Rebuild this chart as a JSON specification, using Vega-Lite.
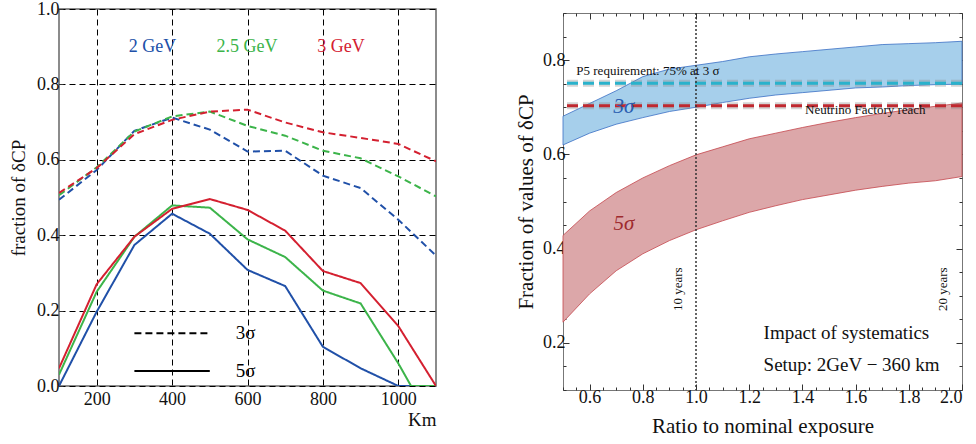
{
  "$schema": "https://vega.github.io/schema/vega-lite/v6.json",
  "padding": {"left": 8, "top": -1, "right": 0, "bottom": 0},
  "background": "white",
  "spacing": 78,
  "config": {
    "font": "Liberation Serif",
    "axis": {"labelFont": "Liberation Serif", "titleFont": "Liberation Serif", "labelColor": "#111", "titleColor": "#111", "titleFontWeight": "normal", "domain": false, "tickColor": "#333", "labelOverlap": false, "grid": false},
    "text": {"font": "Liberation Serif"}
  },
  "datasets": {
    "left": [
      {"km": 100, "frac": 0.494, "energy": "2 GeV", "sigma": "3σ"},
      {"km": 200, "frac": 0.573, "energy": "2 GeV", "sigma": "3σ"},
      {"km": 300, "frac": 0.677, "energy": "2 GeV", "sigma": "3σ"},
      {"km": 400, "frac": 0.712, "energy": "2 GeV", "sigma": "3σ"},
      {"km": 500, "frac": 0.680, "energy": "2 GeV", "sigma": "3σ"},
      {"km": 600, "frac": 0.622, "energy": "2 GeV", "sigma": "3σ"},
      {"km": 700, "frac": 0.624, "energy": "2 GeV", "sigma": "3σ"},
      {"km": 800, "frac": 0.558, "energy": "2 GeV", "sigma": "3σ"},
      {"km": 900, "frac": 0.525, "energy": "2 GeV", "sigma": "3σ"},
      {"km": 1000, "frac": 0.441, "energy": "2 GeV", "sigma": "3σ"},
      {"km": 1100, "frac": 0.346, "energy": "2 GeV", "sigma": "3σ"},
      {"km": 100, "frac": 0.506, "energy": "2.5 GeV", "sigma": "3σ"},
      {"km": 200, "frac": 0.580, "energy": "2.5 GeV", "sigma": "3σ"},
      {"km": 300, "frac": 0.675, "energy": "2.5 GeV", "sigma": "3σ"},
      {"km": 400, "frac": 0.715, "energy": "2.5 GeV", "sigma": "3σ"},
      {"km": 500, "frac": 0.728, "energy": "2.5 GeV", "sigma": "3σ"},
      {"km": 600, "frac": 0.690, "energy": "2.5 GeV", "sigma": "3σ"},
      {"km": 700, "frac": 0.664, "energy": "2.5 GeV", "sigma": "3σ"},
      {"km": 800, "frac": 0.624, "energy": "2.5 GeV", "sigma": "3σ"},
      {"km": 900, "frac": 0.604, "energy": "2.5 GeV", "sigma": "3σ"},
      {"km": 1000, "frac": 0.556, "energy": "2.5 GeV", "sigma": "3σ"},
      {"km": 1100, "frac": 0.503, "energy": "2.5 GeV", "sigma": "3σ"},
      {"km": 100, "frac": 0.512, "energy": "3 GeV", "sigma": "3σ"},
      {"km": 200, "frac": 0.578, "energy": "3 GeV", "sigma": "3σ"},
      {"km": 300, "frac": 0.668, "energy": "3 GeV", "sigma": "3σ"},
      {"km": 400, "frac": 0.706, "energy": "3 GeV", "sigma": "3σ"},
      {"km": 500, "frac": 0.728, "energy": "3 GeV", "sigma": "3σ"},
      {"km": 600, "frac": 0.733, "energy": "3 GeV", "sigma": "3σ"},
      {"km": 700, "frac": 0.699, "energy": "3 GeV", "sigma": "3σ"},
      {"km": 800, "frac": 0.673, "energy": "3 GeV", "sigma": "3σ"},
      {"km": 900, "frac": 0.658, "energy": "3 GeV", "sigma": "3σ"},
      {"km": 1000, "frac": 0.642, "energy": "3 GeV", "sigma": "3σ"},
      {"km": 1100, "frac": 0.596, "energy": "3 GeV", "sigma": "3σ"},
      {"km": 100, "frac": 0.0, "energy": "2 GeV", "sigma": "5σ"},
      {"km": 200, "frac": 0.197, "energy": "2 GeV", "sigma": "5σ"},
      {"km": 300, "frac": 0.374, "energy": "2 GeV", "sigma": "5σ"},
      {"km": 400, "frac": 0.457, "energy": "2 GeV", "sigma": "5σ"},
      {"km": 500, "frac": 0.404, "energy": "2 GeV", "sigma": "5σ"},
      {"km": 600, "frac": 0.308, "energy": "2 GeV", "sigma": "5σ"},
      {"km": 700, "frac": 0.265, "energy": "2 GeV", "sigma": "5σ"},
      {"km": 800, "frac": 0.104, "energy": "2 GeV", "sigma": "5σ"},
      {"km": 900, "frac": 0.047, "energy": "2 GeV", "sigma": "5σ"},
      {"km": 1000, "frac": 0.0, "energy": "2 GeV", "sigma": "5σ"},
      {"km": 1100, "frac": 0.0, "energy": "2 GeV", "sigma": "5σ"},
      {"km": 100, "frac": 0.030, "energy": "2.5 GeV", "sigma": "5σ"},
      {"km": 200, "frac": 0.250, "energy": "2.5 GeV", "sigma": "5σ"},
      {"km": 300, "frac": 0.396, "energy": "2.5 GeV", "sigma": "5σ"},
      {"km": 400, "frac": 0.479, "energy": "2.5 GeV", "sigma": "5σ"},
      {"km": 500, "frac": 0.473, "energy": "2.5 GeV", "sigma": "5σ"},
      {"km": 600, "frac": 0.389, "energy": "2.5 GeV", "sigma": "5σ"},
      {"km": 700, "frac": 0.342, "energy": "2.5 GeV", "sigma": "5σ"},
      {"km": 800, "frac": 0.253, "energy": "2.5 GeV", "sigma": "5σ"},
      {"km": 900, "frac": 0.219, "energy": "2.5 GeV", "sigma": "5σ"},
      {"km": 1000, "frac": 0.060, "energy": "2.5 GeV", "sigma": "5σ"},
      {"km": 1034, "frac": 0.0, "energy": "2.5 GeV", "sigma": "5σ"},
      {"km": 1100, "frac": 0.0, "energy": "2.5 GeV", "sigma": "5σ"},
      {"km": 100, "frac": 0.047, "energy": "3 GeV", "sigma": "5σ"},
      {"km": 200, "frac": 0.270, "energy": "3 GeV", "sigma": "5σ"},
      {"km": 300, "frac": 0.396, "energy": "3 GeV", "sigma": "5σ"},
      {"km": 400, "frac": 0.470, "energy": "3 GeV", "sigma": "5σ"},
      {"km": 500, "frac": 0.496, "energy": "3 GeV", "sigma": "5σ"},
      {"km": 600, "frac": 0.467, "energy": "3 GeV", "sigma": "5σ"},
      {"km": 700, "frac": 0.412, "energy": "3 GeV", "sigma": "5σ"},
      {"km": 800, "frac": 0.305, "energy": "3 GeV", "sigma": "5σ"},
      {"km": 900, "frac": 0.273, "energy": "3 GeV", "sigma": "5σ"},
      {"km": 1000, "frac": 0.159, "energy": "3 GeV", "sigma": "5σ"},
      {"km": 1100, "frac": 0.0, "energy": "3 GeV", "sigma": "5σ"}
    ],
    "legL": [
      {"x1": 300, "x2": 500, "y": 0.14, "sigma": "3σ"},
      {"x1": 300, "x2": 500, "y": 0.04, "sigma": "5σ"}
    ],
    "energyLabels": [
      {"km": 348, "y": 0.9, "energy": "2 GeV"},
      {"km": 599, "y": 0.9, "energy": "2.5 GeV"},
      {"km": 848, "y": 0.9, "energy": "3 GeV"}
    ],
    "bands": [
      {"r": 0.5, "lo3": 0.620, "hi3": 0.681, "lo5": 0.244, "hi5": 0.428},
      {"r": 0.6, "lo3": 0.645, "hi3": 0.708, "lo5": 0.304, "hi5": 0.480},
      {"r": 0.7, "lo3": 0.664, "hi3": 0.735, "lo5": 0.353, "hi5": 0.519},
      {"r": 0.8, "lo3": 0.678, "hi3": 0.765, "lo5": 0.389, "hi5": 0.550},
      {"r": 0.9, "lo3": 0.691, "hi3": 0.781, "lo5": 0.417, "hi5": 0.576},
      {"r": 1.0, "lo3": 0.700, "hi3": 0.789, "lo5": 0.440, "hi5": 0.599},
      {"r": 1.1, "lo3": 0.710, "hi3": 0.797, "lo5": 0.459, "hi5": 0.616},
      {"r": 1.2, "lo3": 0.719, "hi3": 0.807, "lo5": 0.477, "hi5": 0.633},
      {"r": 1.3, "lo3": 0.726, "hi3": 0.813, "lo5": 0.491, "hi5": 0.645},
      {"r": 1.4, "lo3": 0.731, "hi3": 0.818, "lo5": 0.504, "hi5": 0.657},
      {"r": 1.5, "lo3": 0.736, "hi3": 0.823, "lo5": 0.514, "hi5": 0.668},
      {"r": 1.6, "lo3": 0.741, "hi3": 0.828, "lo5": 0.524, "hi5": 0.678},
      {"r": 1.7, "lo3": 0.743, "hi3": 0.833, "lo5": 0.532, "hi5": 0.687},
      {"r": 1.8, "lo3": 0.746, "hi3": 0.835, "lo5": 0.539, "hi5": 0.695},
      {"r": 1.9, "lo3": 0.748, "hi3": 0.837, "lo5": 0.544, "hi5": 0.702},
      {"r": 2.0, "lo3": 0.749, "hi3": 0.840, "lo5": 0.553, "hi5": 0.709}
    ]
  },
  "hconcat": [
    {
      "width": 377,
      "height": 377,
      "view": {"stroke": "#666", "strokeWidth": 1.5},
      "layer": [
        {
          "data": {"name": "left"},
          "mark": {"type": "line", "strokeWidth": 2, "clip": true},
          "encoding": {
            "x": {"field": "km", "type": "quantitative",
              "scale": {"domain": [100, 1100], "nice": false, "zero": false},
              "axis": {"values": [200, 400, 600, 800, 1000], "format": "d",
                "labelFontSize": 18, "tickSize": 0, "labelPadding": 4, "labelFlush": false,
                "grid": true, "gridColor": "#000", "gridDash": [6, 4], "gridWidth": 1,
                "title": "Km", "titleFontSize": 19, "titleAnchor": "end", "titlePadding": 2}},
            "y": {"field": "frac", "type": "quantitative",
              "scale": {"domain": [0, 1], "nice": false},
              "axis": {"values": [0,0.05,0.1,0.15,0.2,0.25,0.3,0.35,0.4,0.45,0.5,0.55,0.6,0.65,0.7,0.75,0.8,0.85,0.9,0.95,1.0],
                "labelExpr": "abs(datum.value*5 - round(datum.value*5)) < 0.001 ? format(datum.value, '.1f') : ''",
                "labelFontSize": 18, "tickSize": -4, "labelPadding": 4,
                "grid": true, "gridColor": "#000", "gridDash": [6, 4], "gridWidth": 1,
                "gridOpacity": {"condition": {"test": "abs(datum.value*5 - round(datum.value*5)) < 0.001", "value": 1}, "value": 0},
                "title": "fraction of δCP", "titleFontSize": 19, "titlePadding": 8}},
            "color": {"field": "energy", "type": "nominal",
              "scale": {"domain": ["2 GeV", "2.5 GeV", "3 GeV"], "range": ["#2050a8", "#3cb44a", "#d42030"]}, "legend": null},
            "strokeDash": {"field": "sigma", "type": "nominal",
              "scale": {"domain": ["3σ", "5σ"], "range": [[7, 4], [1, 0]]}, "legend": null}
          }
        },
        {
          "data": {"name": "legL"},
          "mark": {"type": "rule", "strokeWidth": 2, "color": "#000"},
          "encoding": {
            "x": {"field": "x1", "type": "quantitative"},
            "x2": {"field": "x2"},
            "y": {"field": "y", "type": "quantitative"},
            "strokeDash": {"field": "sigma", "type": "nominal", "legend": null}
          }
        },
        {
          "data": {"name": "legL"},
          "mark": {"type": "text", "align": "left", "baseline": "middle", "fontSize": 19, "color": "#000", "dx": 26},
          "encoding": {
            "x": {"field": "x2", "type": "quantitative"},
            "y": {"field": "y", "type": "quantitative"},
            "text": {"field": "sigma"}
          }
        },
        {
          "data": {"name": "energyLabels"},
          "mark": {"type": "text", "align": "center", "baseline": "middle", "fontSize": 18},
          "encoding": {
            "x": {"field": "km", "type": "quantitative"},
            "y": {"field": "y", "type": "quantitative"},
            "text": {"field": "energy"},
            "color": {"field": "energy", "type": "nominal", "legend": null}
          }
        }
      ]
    },
    {
      "spacing": -7,
      "vconcat": [
        {
          "width": 399,
          "height": 1,
          "view": {"stroke": null},
          "data": {"values": [{"a": 1}]},
          "mark": {"type": "rule", "opacity": 0},
          "encoding": {}
        },
        {
          "width": 399,
          "height": 377,
          "view": {"stroke": "#777", "strokeWidth": 1},
          "resolve": {"axis": {"x": "independent", "y": "independent"}},
          "layer": [
            {
              "data": {"name": "bands"},
              "mark": {"type": "area", "color": "#dca7a9", "stroke": "#c4464c", "strokeWidth": 0.8, "opacity": 1},
              "encoding": {
                "x": {"field": "r", "type": "quantitative",
                  "scale": {"domain": [0.5, 2.0], "nice": false, "zero": false},
                  "axis": {"orient": "bottom", "values": [0.5,0.55,0.6,0.65,0.7,0.75,0.8,0.85,0.9,0.95,1.0,1.05,1.1,1.15,1.2,1.25,1.3,1.35,1.4,1.45,1.5,1.55,1.6,1.65,1.7,1.75,1.8,1.85,1.9,1.95,2.0],
                    "labelExpr": "abs(datum.value*5 - round(datum.value*5)) < 0.001 ? format(datum.value, '.1f') : ''",
                    "labelFontSize": 18, "labelPadding": 4,
                    "tickSize": {"condition": {"test": "abs(datum.value*5 - round(datum.value*5)) < 0.001", "value": -6}, "value": -3},
                    "title": "Ratio to nominal exposure", "titleFontSize": 21, "titlePadding": 6}},
                "y": {"field": "lo5", "type": "quantitative",
                  "scale": {"domain": [0.1, 0.9], "nice": false, "zero": false},
                  "axis": {"orient": "left", "values": [0.1,0.15,0.2,0.25,0.3,0.35,0.4,0.45,0.5,0.55,0.6,0.65,0.7,0.75,0.8,0.85,0.9],
                    "labelExpr": "abs(datum.value*5 - round(datum.value*5)) < 0.001 ? format(datum.value, '.1f') : ''",
                    "labelFontSize": 18, "labelPadding": 4,
                    "tickSize": {"condition": {"test": "abs(datum.value*5 - round(datum.value*5)) < 0.001", "value": -6}, "value": -3},
                    "title": "Fraction of values of δCP", "titleFontSize": 21, "titlePadding": 6}},
                "y2": {"field": "hi5"}
              }
            },
            {
              "data": {"name": "bands"},
              "mark": {"type": "area", "color": "#a6cfeb", "stroke": "#3a6ec4", "strokeWidth": 0.8, "opacity": 1},
              "encoding": {
                "x": {"field": "r", "type": "quantitative",
                  "axis": {"orient": "top", "values": [0.5,0.55,0.6,0.65,0.7,0.75,0.8,0.85,0.9,0.95,1.0,1.05,1.1,1.15,1.2,1.25,1.3,1.35,1.4,1.45,1.5,1.55,1.6,1.65,1.7,1.75,1.8,1.85,1.9,1.95,2.0],
                    "labels": false, "title": null,
                    "tickSize": {"condition": {"test": "abs(datum.value*5 - round(datum.value*5)) < 0.001", "value": -6}, "value": -3}}},
                "y": {"field": "lo3", "type": "quantitative",
                  "axis": {"orient": "right", "values": [0.1,0.15,0.2,0.25,0.3,0.35,0.4,0.45,0.5,0.55,0.6,0.65,0.7,0.75,0.8,0.85,0.9],
                    "labels": false, "title": null,
                    "tickSize": {"condition": {"test": "abs(datum.value*5 - round(datum.value*5)) < 0.001", "value": -6}, "value": -3}}},
                "y2": {"field": "hi3"}
              }
            },
            {
              "data": {"values": [{"y": 0.751}, {"y": 0.703}]},
              "mark": {"type": "rule", "strokeWidth": 7, "color": "#888", "opacity": 0.35, "strokeDash": [11, 5]},
              "encoding": {
                "y": {"field": "y", "type": "quantitative", "axis": null}
              }
            },
            {
              "data": {"values": [{"y": 0.751}]},
              "mark": {"type": "rule", "strokeWidth": 3, "strokeDash": [11, 5], "color": "#29b2cc"},
              "encoding": {
                "y": {"field": "y", "type": "quantitative", "axis": null}
              }
            },
            {
              "data": {"values": [{"y": 0.703}]},
              "mark": {"type": "rule", "strokeWidth": 3, "strokeDash": [11, 5], "color": "#c0282f"},
              "encoding": {
                "y": {"field": "y", "type": "quantitative", "axis": null}
              }
            },
            {
              "data": {"values": [{"r": 1.0}]},
              "mark": {"type": "rule", "strokeWidth": 1.5, "color": "#333", "strokeDash": [2, 2]},
              "encoding": {
                "x": {"field": "r", "type": "quantitative", "axis": null}
              }
            },
            {
              "data": {"values": [
                {"r": 0.55, "y": 0.777, "t": "P5 requirement: 75% at 3 σ"},
                {"r": 1.41, "y": 0.694, "t": "Neutrino Factory reach"}
              ]},
              "mark": {"type": "text", "align": "left", "baseline": "middle", "fontSize": 13, "color": "#111"},
              "encoding": {
                "x": {"field": "r", "type": "quantitative", "axis": null},
                "y": {"field": "y", "type": "quantitative", "axis": null},
                "text": {"field": "t"}
              }
            },
            {
              "data": {"values": [
                {"r": 0.934, "y": 0.314, "t": "10 years"},
                {"r": 1.93, "y": 0.314, "t": "20 years"}
              ]},
              "mark": {"type": "text", "align": "center", "baseline": "middle", "fontSize": 13, "angle": 270, "color": "#111"},
              "encoding": {
                "x": {"field": "r", "type": "quantitative", "axis": null},
                "y": {"field": "y", "type": "quantitative", "axis": null},
                "text": {"field": "t"}
              }
            },
            {
              "data": {"values": [
                {"r": 1.254, "y": 0.221, "t": "Impact of systematics"},
                {"r": 1.254, "y": 0.152, "t": "Setup: 2GeV − 360 km"}
              ]},
              "mark": {"type": "text", "align": "left", "baseline": "middle", "fontSize": 19, "color": "#111"},
              "encoding": {
                "x": {"field": "r", "type": "quantitative", "axis": null},
                "y": {"field": "y", "type": "quantitative", "axis": null},
                "text": {"field": "t"}
              }
            },
            {
              "data": {"values": [{"r": 0.69, "y": 0.70, "t": "3σ"}]},
              "mark": {"type": "text", "align": "left", "baseline": "middle", "fontSize": 21, "fontStyle": "italic", "color": "#2a5db0"},
              "encoding": {
                "x": {"field": "r", "type": "quantitative", "axis": null},
                "y": {"field": "y", "type": "quantitative", "axis": null},
                "text": {"field": "t"}
              }
            },
            {
              "data": {"values": [{"r": 0.69, "y": 0.452, "t": "5σ"}]},
              "mark": {"type": "text", "align": "left", "baseline": "middle", "fontSize": 21, "fontStyle": "italic", "color": "#9e2a2e"},
              "encoding": {
                "x": {"field": "r", "type": "quantitative", "axis": null},
                "y": {"field": "y", "type": "quantitative", "axis": null},
                "text": {"field": "t"}
              }
            }
          ]
        }
      ]
    }
  ]
}
